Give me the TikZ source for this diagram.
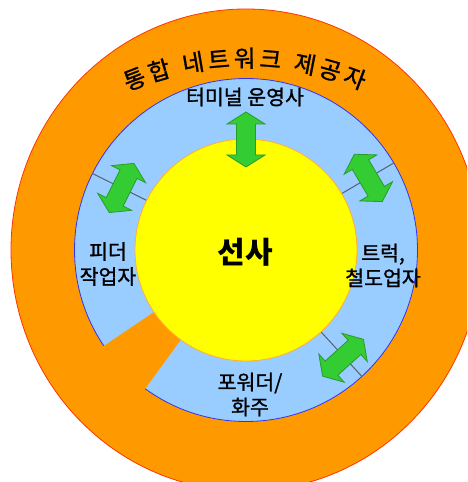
\documentclass[tikz,border=0pt]{standalone}
\usepackage{fontspec}
\setmainfont{Noto Sans CJK KR}
\newfontfamily\krheavy{Noto Sans CJK KR}[FakeBold=1.2]
\usetikzlibrary{calc,decorations.text}
\definecolor{ringorange}{HTML}{FF9900}
\definecolor{ringred}{HTML}{FF3300}
\definecolor{ringblue}{HTML}{99CCFF}
\definecolor{ringblueedge}{HTML}{3333EE}
\definecolor{coreyellow}{HTML}{FFFF00}
\definecolor{coreedge}{HTML}{FFB030}
\definecolor{arrowgreen}{HTML}{33CC33}
\definecolor{arrowborder}{HTML}{2A9A2A}
\definecolor{dividergray}{HTML}{556070}
\begin{document}
\begin{tikzpicture}[x=1pt,y=1pt,
  lbl/.style={font=\krheavy\fontsize{20.5}{25}\selectfont, align=center, inner sep=0pt},
  centertext/.style={font=\fontsize{30}{30}\selectfont\bfseries, inner sep=0pt},
  divider/.style={draw=dividergray, line width=1pt},
  flowarrow/.pic={\draw[fill=arrowgreen, draw=arrowborder, line width=0.8pt, line join=miter]
    (27.5,0) -- (15.5,19) -- (15.5,9.5) -- (-15.5,9.5) -- (-15.5,19) -- (-27.5,0)
    -- (-15.5,-19) -- (-15.5,-9.5) -- (15.5,-9.5) -- (15.5,-19) -- cycle;}]
\clip (0,0) rectangle (467,482);
\coordinate (C) at (246,232);
% outer ring
\filldraw[fill=ringorange, draw=ringred, line width=0.8pt] (C) ellipse [x radius=235pt, y radius=241pt];
% middle ring
\filldraw[fill=ringblue, draw=ringblueedge, line width=0.8pt] (C) circle[radius=171.5pt];
% dividers
\foreach \a [count=\i] in {153.5,30.5,-47.5}{
  \coordinate (din\i) at ($(C)+(\a:110)$);
  \coordinate (dout\i) at ($(C)+(\a:171.5)$);
  \draw[divider] (din\i) -- (dout\i);
}
% wedge gap
\fill[ringorange] (C) -- ($(C)+(214:178)$) arc[start angle=214, end angle=234, radius=178pt] -- cycle;
% core
\filldraw[fill=coreyellow, draw=coreedge, line width=0.8pt] (C) circle[radius=111pt];
% arrows
\path ($(C)+(90:110.5)$) pic[rotate=90]{flowarrow};
\path ($(C)+(153.5:139)$) pic[rotate=63.5]{flowarrow};
\path ($(C)+(30.5:142)$) pic[rotate=120.5]{flowarrow};
\path ($(C)+(-48:145)$) pic[rotate=42]{flowarrow};
% curved title
\coordinate (T) at (246,112);
\coordinate (titlestart) at ($(T)+(113:303)$);
\path[decorate, decoration={text along path,
    text={|\krheavy\fontsize{23.5}{23.5}\selectfont|통합 네트워크 제공자},
    text align=fit to path}]
  (titlestart) arc[start angle=113, end angle=67.5, radius=303pt];
% labels
\node[lbl] (terminal) at (245,385) {터미널 운영사};
\node[lbl] (feeder) at (108,218) {피더\\작업자};
\node[lbl] (truck) at (383,216.5) {트럭,\\철도업자};
\node[lbl] (forwarder) at (250,87.5) {포워더/\\화주};
\node[centertext] (carrier) at (245.5,229.5) {선사};
\end{tikzpicture}
\end{document}
